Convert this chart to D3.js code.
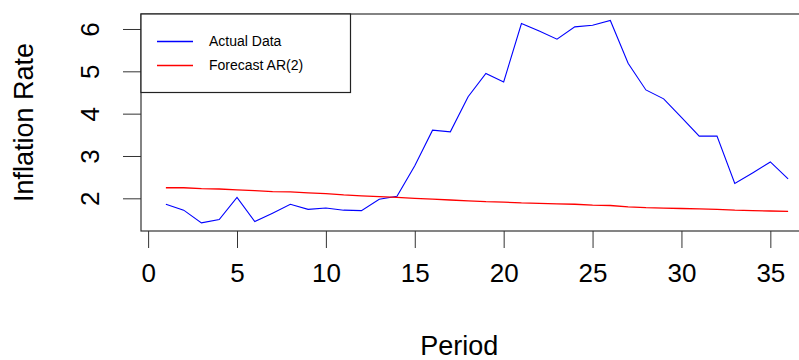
<!DOCTYPE html>
<html>
<head>
<meta charset="utf-8">
<script src="https://cdn.jsdelivr.net/npm/d3@7"></script>
<style>
  body { margin: 0; background: #fff; }
  text { font-family: "Liberation Sans", Arial, sans-serif; fill: #000; }
</style>
</head>
<body>
<div id="my_dataviz"></div>
<script>
// period index and the two series
var periods = d3.range(1, 37);
var actual = [1.86, 1.72, 1.42, 1.50, 2.02, 1.45, 1.65, 1.86, 1.74, 1.77,
              1.72, 1.71, 1.98, 2.05, 2.77, 3.61, 3.57, 4.40, 4.95, 4.75,
              6.13, 5.95, 5.76, 6.05, 6.09, 6.20, 5.19, 4.56, 4.35, 3.91,
              3.47, 3.47, 2.35, 2.60, 2.86, 2.46];
var forecast = [2.25, 2.25, 2.23, 2.22, 2.20, 2.18, 2.16, 2.15, 2.13, 2.11,
                2.08, 2.06, 2.04, 2.02, 2.00, 1.98, 1.96, 1.94, 1.92, 1.91,
                1.89, 1.88, 1.87, 1.86, 1.84, 1.83, 1.80, 1.78, 1.77, 1.76,
                1.75, 1.74, 1.72, 1.71, 1.70, 1.69];
var xTicks = [0, 5, 10, 15, 20, 25, 30, 35];
var yTicks = [2, 3, 4, 5, 6];
var legendLabels = ["Actual Data", "Forecast AR(2)"];
var colors = ["#0000ff", "#ff0000"];

var W = 799, H = 360;
var margin = { top: 14, right: -14, bottom: 129, left: 141 },
    width = W - margin.left - margin.right,
    height = H - margin.top - margin.bottom;

var svg = d3.select("#my_dataviz")
    .append("svg")
    .attr("width", W)
    .attr("height", H);

var g = svg.append("g")
    .attr("transform", "translate(" + margin.left + "," + margin.top + ")");

// R style 4% extension on x
var x = d3.scaleLinear()
    .domain([-0.4, 37.4])
    .range([0, width]);

var y = d3.scaleLinear()
    .domain([1.228, 6.354])
    .range([height, 0]);

// x axis: ticks hanging below the box
var xAxis = g.append("g")
    .attr("transform", "translate(0," + height + ")")
    .call(d3.axisBottom(x).tickValues(xTicks).tickSize(17).tickPadding(16).tickFormat(d3.format("d")));
xAxis.select(".domain").remove();
xAxis.selectAll("line").attr("stroke", "#333");
xAxis.selectAll("text")
    .style("font-size", "26px");

var yAxis = g.append("g")
    .call(d3.axisLeft(y).tickValues(yTicks).tickSize(18).tickFormat(d3.format("d")));
yAxis.select(".domain").remove();
yAxis.selectAll("line").attr("stroke", "#333");
yAxis.selectAll("text")
    .attr("x", null).attr("dy", null)
    .attr("transform", "translate(-51,0) rotate(-90)")
    .attr("text-anchor", "middle")
    .attr("dominant-baseline", "central")
    .style("font-size", "26px");
xAxis.attr("font-family", null);
yAxis.attr("font-family", null);

// lines
var line = d3.line()
    .x(function (d, i) { return x(periods[i]); })
    .y(function (d) { return y(d); });

g.append("path")
    .datum(actual)
    .attr("fill", "none")
    .attr("stroke", colors[0])
    .attr("stroke-width", 1.1)
    .attr("d", line);

g.append("path")
    .datum(forecast)
    .attr("fill", "none")
    .attr("stroke", colors[1])
    .attr("stroke-width", 1.3)
    .attr("d", line);

// plot box
g.append("rect")
    .attr("x", 0).attr("y", 0)
    .attr("width", width).attr("height", height)
    .attr("fill", "none")
    .attr("stroke", "#333")
    .attr("stroke-width", 1.2);

// legend
var legend = g.append("g");
legend.append("rect")
    .attr("x", 0).attr("y", 0)
    .attr("width", 209.5).attr("height", 78.5)
    .attr("fill", "#fff")
    .attr("stroke", "#222")
    .attr("stroke-width", 1.2);

legendLabels.forEach(function (label, i) {
    var ly = 27 + i * 24;
    legend.append("line")
        .attr("x1", 16).attr("x2", 52)
        .attr("y1", ly + 0.5).attr("y2", ly + 0.5)
        .style("stroke", colors[i])
        .attr("stroke-width", 1.3);
    legend.append("text")
        .attr("x", 68)
        .attr("y", ly)
        .attr("dy", "0.35em")
        .style("font-size", "14px")
        .text(label);
});

// axis titles
svg.append("text")
    .attr("x", margin.left + x(17.5))
    .attr("y", 355)
    .attr("text-anchor", "middle")
    .style("font-size", "27px")
    .text("Period");

svg.append("text")
    .attr("transform", "translate(33," + (margin.top + y(3.79)) + ") rotate(-90)")
    .attr("text-anchor", "middle")
    .style("font-size", "27px")
    .text("Inflation Rate");
</script>
</body>
</html>
